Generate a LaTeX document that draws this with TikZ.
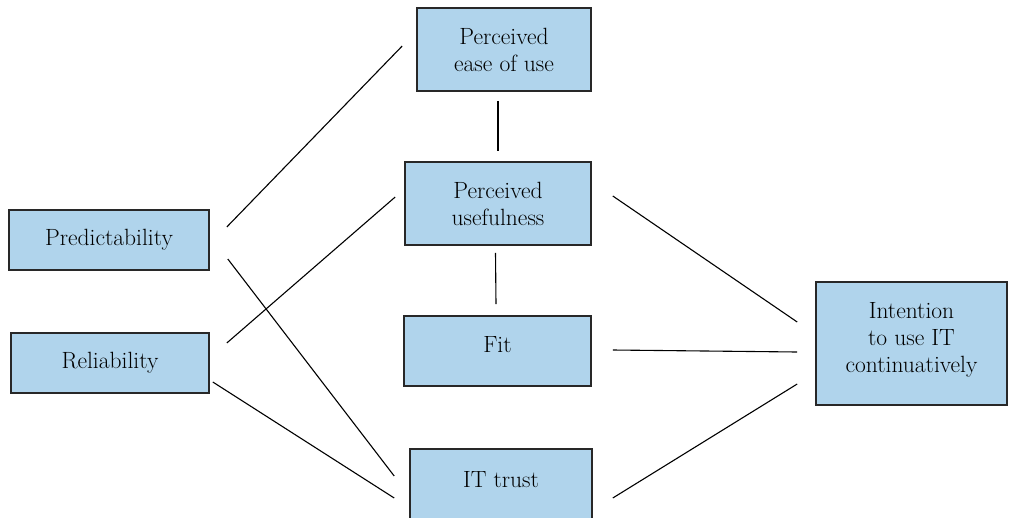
\documentclass[tikz,border=0pt]{standalone}
\usepackage{amsmath}
\usepackage{amssymb}

\definecolor{boxblue}{RGB}{176,212,236}
\definecolor{boxline}{RGB}{40,40,40}

\begin{document}
\begin{tikzpicture}[x=1pt,y=-1pt,auto]
                            \useasboundingbox (0,0) rectangle (1009,517);
                            \begin{scope}[every node/.style={rectangle,draw=boxline,line width=1.6pt,fill=boxblue,align=center,font=\fontsize{23.5}{27}\selectfont,inner sep=0pt}]
                                \node[minimum width=174pt,minimum height=83pt] (PEOU) at (504,49.5) {Perceived\\ease of use};
                                \node[minimum width=186pt,minimum height=83pt] (PU) at (498,203.5) {Perceived\\usefulness};
                                \node[minimum width=187pt,minimum height=70pt,text depth=14pt] (FIT) at (497.5,351) {Fit};
                                \node[minimum width=182pt,minimum height=82pt,text depth=22pt] (ITT) at (501,490) {IT trust};
                                \node[minimum width=200pt,minimum height=60pt] (PRED) at (109,240) {Predictability};
                                \node[minimum width=198pt,minimum height=60pt] (REL) at (110,363) {Reliability};
                                \node[minimum width=191pt,minimum height=123pt,text depth=12pt] (INT) at (911.5,343.5) {Intention\\to use IT\\continuatively};
                            \end{scope}
                            \begin{scope}[every path/.style={draw=black,line width=1.1pt}]
                                \draw ([xshift=17pt,yshift=13pt]PRED.east) -- ([xshift=-14pt,yshift=3.5pt]PEOU.west);
                                \draw ([xshift=18pt,yshift=-19pt]PRED.east) -- ([xshift=-15pt,yshift=14pt]ITT.west);
                                \draw ([xshift=17pt,yshift=20pt]REL.east) -- ([xshift=-9pt,yshift=6.5pt]PU.west);
                                \draw ([xshift=3pt,yshift=-19pt]REL.east) -- ([xshift=-15pt,yshift=-8pt]ITT.west);
                                \draw ([xshift=-6pt,yshift=-9pt]PEOU.south) -- ([yshift=10pt]PU.north);
                                \draw ([xshift=-2.5pt,yshift=-7pt]PU.south) -- ([xshift=-1.5pt,yshift=11pt]FIT.north);
                                \draw ([xshift=21pt,yshift=7.5pt]PU.east) -- ([xshift=-18pt,yshift=21.5pt]INT.west);
                                \draw ([xshift=21pt,yshift=1pt]FIT.east) -- ([xshift=-18pt,yshift=-8.5pt]INT.west);
                                \draw ([xshift=20pt,yshift=-8pt]ITT.east) -- ([xshift=-18pt,yshift=-40.5pt]INT.west);
                            \end{scope}
                        \end{tikzpicture}
\end{document}
